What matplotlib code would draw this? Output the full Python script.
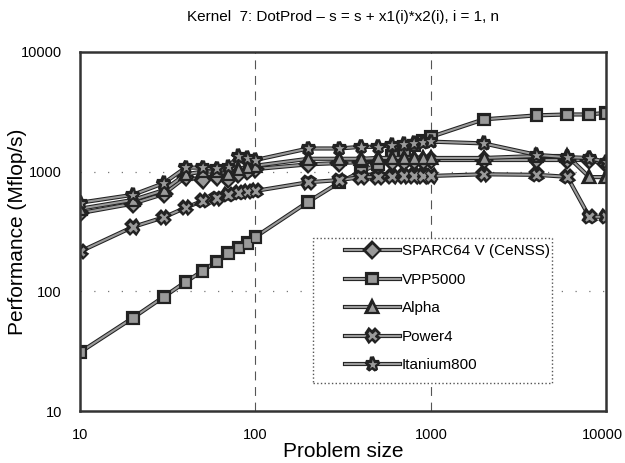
import matplotlib.pyplot as plt
import matplotlib.patheffects as pe
import matplotlib.transforms as mtransforms
from matplotlib.patches import Rectangle

plt.rcParams["font.family"] = ["Liberation Sans", "DejaVu Sans"]

# Problem sizes
sizes = [10, 20, 30, 40, 50, 60, 70, 80, 90, 100,
         200, 300, 400, 500, 600, 700, 800, 900, 1000,
         2000, 4000, 6000, 8000, 10000]

# Performance (Mflop/s)
sparc = [450, 540, 650, 900, 850, 900, 860, 950, 1000, 1050,
         1150, 1180, 1200, 1200, 1200, 1200, 1220, 1230, 1250,
         1250, 1250, 1250, 1250, 1150]
vpp = [31, 60, 90, 120, 148, 178, 210, 232, 255, 285,
       560, 810, 1000, 1150, 1350, 1500, 1650, 1800, 1950,
       2730, 2950, 3000, 3000, 3100]
alpha = [490, 580, 700, 950, 1000, 1000, 960, 1050, 1100, 1120,
         1280, 1280, 1280, 1300, 1300, 1300, 1300, 1300, 1300,
         1300, 1350, 1350, 900, 900]
power4 = [215, 345, 415, 500, 570, 600, 640, 665, 680, 690,
          815, 850, 900, 900, 910, 920, 920, 920, 920,
          950, 940, 905, 420, 420]
itanium = [550, 640, 800, 1080, 1080, 1060, 1100, 1350, 1300, 1250,
           1560, 1560, 1610, 1610, 1660, 1700, 1720, 1750, 1780,
           1720, 1380, 1320, 1300, 1200]

series = [
    ("SPARC64 V (CeNSS)", sparc, "D", 7),
    ("VPP5000", vpp, "s", 7),
    ("Alpha", alpha, "^", 7),
    ("Power4", power4, "X", 8),
    ("Itanium800", itanium, "*", 10),
]

fig = plt.figure(figsize=(6.25, 4.63), dpi=100)
ax = fig.add_axes([0.128, 0.112, 0.842, 0.776])

outline = [pe.Stroke(linewidth=3.0, foreground="#222222"), pe.Normal()]
for label, vals, mk, ms in series:
    ax.plot(sizes, vals, color="#9a9a9a", linewidth=1.5, marker=mk,
            markersize=ms, markerfacecolor="#9a9a9a",
            markeredgecolor="#222222", markeredgewidth=0.9,
            label=label, path_effects=outline)

ax.set_xscale("log")
ax.set_yscale("log")
ax.set_xlim(10, 10000)
ax.set_ylim(10, 10000)
ax.set_xticks([10, 100, 1000, 10000])
ax.set_xticklabels(["10", "100", "1000", "10000"])
ax.set_yticks([10, 100, 1000, 10000])
ax.set_yticklabels(["10", "100", "1000", "10000"])
ax.minorticks_off()
ax.tick_params(axis="y", labelsize=10.5, length=0, pad=13)
ax.tick_params(axis="x", labelsize=10.5, length=0, pad=12)

# last x label sits right at the figure edge; nudge it in a little
last = ax.get_xticklabels()[-1]
last.set_transform(last.get_transform() +
                   mtransforms.ScaledTranslation(-4 / 100, 0, fig.dpi_scale_trans))

for v in [100, 1000]:
    ax.axvline(v, color="#555555", linestyle=(0, (8, 6)), linewidth=0.8, zorder=0)
    ax.axhline(v, color="#777777", linestyle=(0, (1, 10)), linewidth=0.9, zorder=0)

for s in ax.spines.values():
    s.set_linewidth(1.8)
    s.set_color("#333333")

ax.set_xlabel("Problem size", fontsize=15, labelpad=0)
ax.set_ylabel("Performance (Mflop/s)", fontsize=15)
ax.yaxis.set_label_coords(-0.1, 0.5)
fig.text(0.549, 0.963, "Kernel  7: DotProd \u2013 s = s + x1(i)*x2(i), i = 1, n",
         fontsize=11, ha="center", va="center")

# legend box drawn separately so the padding can match
ax.add_patch(Rectangle((0.443, 0.078), 0.454, 0.404, transform=ax.transAxes,
                       facecolor="white", edgecolor="#555555",
                       linestyle=":", linewidth=1.0, zorder=3))
leg = ax.legend(loc="upper left", bbox_to_anchor=(0.503, 0.464),
                fontsize=11, handlelength=3.6, labelspacing=0.95,
                borderpad=0, borderaxespad=0, handletextpad=0.15,
                frameon=False)
leg.set_zorder(4)

fig.savefig("out.png", dpi=100)
